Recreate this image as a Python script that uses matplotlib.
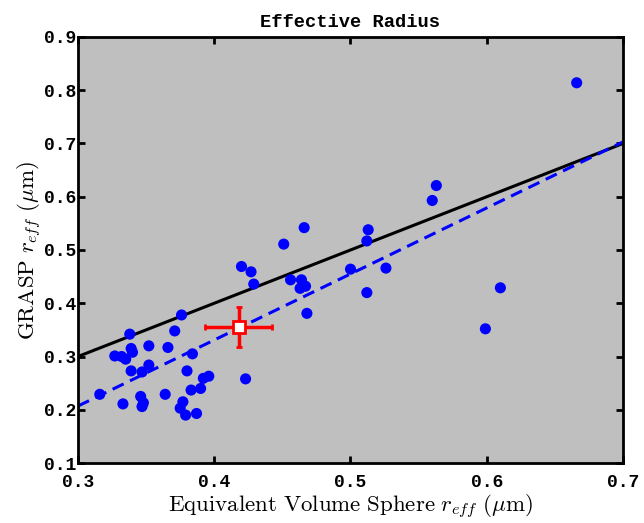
import numpy as np
import matplotlib
matplotlib.use('Agg')
import matplotlib.pyplot as plt

plt.rcParams['mathtext.fontset'] = 'cm'

# equivalent volume sphere r_eff vs GRASP r_eff (um)
evs_reff = [0.376, 0.338, 0.371, 0.352, 0.366, 0.339, 0.340, 0.327, 0.332, 0.335,
            0.384, 0.352, 0.339, 0.347, 0.380, 0.396, 0.392, 0.423, 0.383, 0.390,
            0.316, 0.346, 0.348, 0.347, 0.333, 0.364, 0.377, 0.375, 0.379, 0.387,
            0.466, 0.451, 0.513, 0.512, 0.420, 0.427, 0.429, 0.456, 0.464, 0.467,
            0.463, 0.500, 0.526, 0.512, 0.468, 0.666, 0.563, 0.560, 0.610, 0.599]
grasp_reff = [0.378, 0.342, 0.348, 0.320, 0.317, 0.315, 0.308, 0.301, 0.300, 0.295,
              0.305, 0.284, 0.273, 0.271, 0.273, 0.263, 0.259, 0.258, 0.237, 0.240,
              0.229, 0.225, 0.213, 0.206, 0.211, 0.229, 0.215, 0.203, 0.190, 0.193,
              0.542, 0.511, 0.538, 0.517, 0.469, 0.459, 0.436, 0.444, 0.444, 0.432,
              0.428, 0.464, 0.466, 0.420, 0.381, 0.814, 0.621, 0.593, 0.429, 0.352]

# mean value with spread
mean_x, mean_y = 0.418, 0.355
err_x, err_y = 0.0245, 0.0375

# linear fit shown as dashed line
fit_slope, fit_intercept = 1.24, -0.165

xlim = (0.3, 0.7)
ylim = (0.1, 0.9)
xticks = [0.3, 0.4, 0.5, 0.6, 0.7]
yticks = [0.1, 0.2, 0.3, 0.4, 0.5, 0.6, 0.7, 0.8, 0.9]

fig = plt.figure(figsize=(6.44, 5.23), dpi=100)
ax = fig.add_axes([0.1211, 0.1147, 0.8463, 0.8146])
ax.set_facecolor('#bfbfbf')

xx = np.array(xlim)
ax.plot(xx, xx, color='black', lw=2.2, zorder=2)
ax.plot(xx, fit_slope * xx + fit_intercept, color='blue', lw=2.2,
        dashes=(4, 2.3), zorder=2)

ax.scatter(evs_reff, grasp_reff, s=64, color='blue', edgecolors='none', zorder=3)

ax.errorbar(mean_x, mean_y, xerr=err_x, yerr=err_y, fmt='s', color='red',
            mfc='white', mec='red', mew=2, ms=8, elinewidth=2.5, capsize=2.5,
            capthick=2, zorder=4)

ax.set_xlim(xlim)
ax.set_ylim(ylim)
ax.set_xticks(xticks)
ax.set_yticks(yticks)
ax.set_xticklabels([f'{t:.1f}' for t in xticks])
ax.set_yticklabels([f'{t:.1f}' for t in yticks])
for lab in ax.get_xticklabels() + ax.get_yticklabels():
    lab.set_family('Liberation Mono')
    lab.set_weight('bold')
    lab.set_fontsize(13)
ax.tick_params(direction='in', length=5, width=2, top=True, right=True)
ax.tick_params(axis='x', pad=8)
ax.tick_params(axis='y', pad=1)
for sp in ax.spines.values():
    sp.set_linewidth(2)

ax.set_xlabel(r'$\mathrm{Equivalent\ Volume\ Sphere}\ r_{eff}\ (\mu\mathrm{m})$',
              fontsize=16.5, labelpad=1)
ax.set_ylabel(r'$\mathrm{GRASP}\ r_{eff}\ (\mu\mathrm{m})$', fontsize=16.5, labelpad=0)
ax.set_title('Effective Radius', family='Liberation Mono', weight='bold',
             fontsize=13.5, pad=7)

plt.savefig('out.png', dpi=100)
